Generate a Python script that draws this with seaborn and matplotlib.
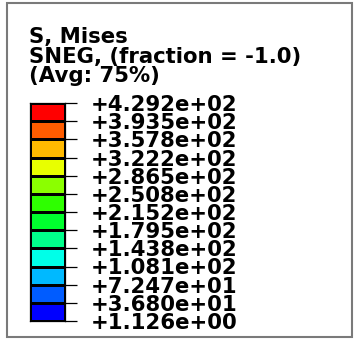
import matplotlib
matplotlib.use("Agg")
import matplotlib.pyplot as plt
from matplotlib.colors import ListedColormap, BoundaryNorm
from matplotlib.patches import Rectangle
import numpy as np
import seaborn as sns

# Contour legend: von Mises stress levels (low -> high) and band colours
levels = [1.126, 36.80, 72.47, 108.1, 143.8, 179.5, 215.2,
          250.8, 286.5, 322.2, 357.8, 393.5, 429.2]
band_colors = ["#0000FF", "#005CFF", "#00B9FF", "#00FFE8", "#00FF8B", "#00FF2E",
               "#2EFF00", "#8BFF00", "#E8FF00", "#FFB900", "#FF5C00", "#FF0000"]
title_lines = ["S, Mises", "SNEG, (fraction = -1.0)", "(Avg: 75%)"]

sns.set_theme(style="white")
plt.rcParams["font.family"] = ["DejaVu Sans"]

W, H, DPI = 358, 339, 100
fig = plt.figure(figsize=(W / DPI, H / DPI), dpi=DPI)
fig.patch.set_facecolor("white")

def fx(px):
    return px / W

def fy(py):
    return 1 - py / H

FS = 15.3

# outer frame
fig.add_artist(Rectangle((fx(7), fy(337)), fx(345), 334 / H, transform=fig.transFigure,
                         fill=False, edgecolor="#7a7a7a", linewidth=1.5))

# header text
for i, line in enumerate(title_lines):
    fig.text(fx(29), fy(43 + 19.5 * i), line, fontsize=FS, fontweight="bold",
             color="black", ha="left", va="baseline")

# colour bar drawn as a one-column heatmap, highest band on top
mids = [(levels[i] + levels[i + 1]) / 2 for i in range(len(levels) - 1)]
data = np.array(mids[::-1]).reshape(-1, 1)
cmap = ListedColormap(band_colors)
norm = BoundaryNorm(levels, cmap.N)

ax = fig.add_axes([fx(30), fy(321), fx(35), 218 / H])
sns.heatmap(data, ax=ax, cmap=cmap, norm=norm, cbar=False,
            linewidths=0.9, linecolor="black",
            xticklabels=False, yticklabels=False)
for s in ax.spines.values():
    s.set_visible(True)
    s.set_color("black")
    s.set_linewidth(0.9)

ax.yaxis.tick_right()
ax.set_yticks(np.arange(len(levels)))
ax.set_yticklabels([f"{v:+.3e}" for v in levels[::-1]],
                   fontsize=FS, fontweight="bold", color="black")
ax.tick_params(axis="y", which="major", right=True, left=False,
               length=8.6, width=0.9, color="black", pad=10)
ax.set_xticks([])

fig.savefig("out.png", dpi=DPI, facecolor="white")
